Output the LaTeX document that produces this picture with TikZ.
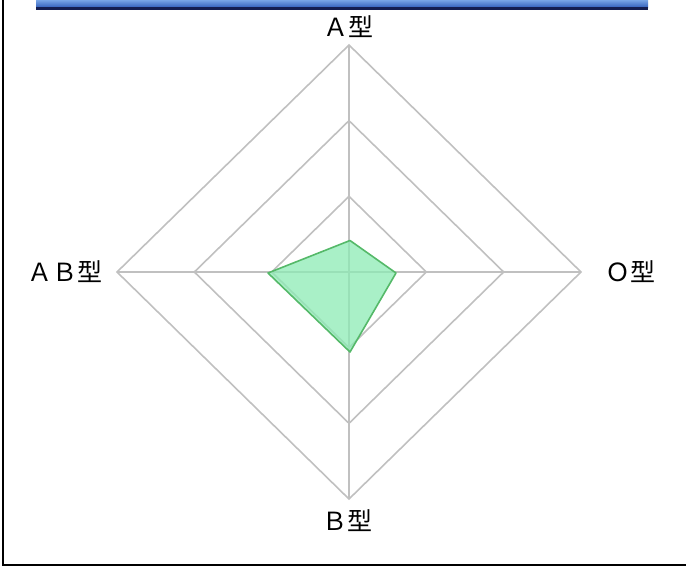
\documentclass[tikz,border=0pt]{standalone}
\usepackage{fontspec}
\usetikzlibrary{calc}
\newfontfamily\jp{Noto Sans CJK JP}
\definecolor{gridgray}{RGB}{192,192,192}
\definecolor{datafill}{RGB}{140,235,180}
\definecolor{dataline}{RGB}{85,185,105}
\definecolor{bartop}{RGB}{120,165,230}
\definecolor{barbot}{RGB}{55,100,190}
\definecolor{barline}{RGB}{20,30,80}
\tikzset{
  gridline/.style={draw=gridgray, line width=1.6pt},
  axislabel/.style={font=\jp\fontsize{25}{29}\selectfont, inner sep=0pt},
  datapoly/.style={fill=datafill, fill opacity=0.75, draw=dataline, line width=1.6pt, line join=round},
  frameline/.style={draw=black, line width=2pt}
}
\begin{document}
\begin{tikzpicture}[x=1pt,y=-1pt]
\useasboundingbox (0,0) rectangle (686,566);
% frame
\draw[frameline] (3,0) -- (3,564.5) -- (686,564.5);
% top bar
\shade[top color=bartop, bottom color=barbot] (36,0) rectangle (648,7);
\fill[barline] (36,7) rectangle (648,9.5);
% radar geometry
\coordinate (c) at (349,272);
\foreach \k in {1,2,3}{
  \draw[gridline] ($(c)+(0,-75.67*\k)$) -- ($(c)+(77.33*\k,0)$) -- ($(c)+(0,75.67*\k)$) -- ($(c)+(-77.33*\k,0)$) -- cycle;
}
\coordinate (top) at (349,45);
\coordinate (right) at (581,272);
\coordinate (bottom) at (349,499);
\coordinate (left) at (117,272);
\draw[gridline] (top) -- (bottom);
\draw[gridline] (left) -- (right);
% data
\coordinate (pA) at (350,240.5);
\coordinate (pO) at (396,273);
\coordinate (pB) at (350,352);
\coordinate (pAB) at (268,273);
\draw[datapoly] (pA) -- (pO) -- (pB) -- (pAB) -- cycle;
% labels
\node[axislabel] (lA) at (348,27) {Ａ型};
\node[axislabel] (lB) at (347,521) {Ｂ型};
\node[axislabel] (lO) at (630,272) {Ｏ型};
\node[axislabel] (lAB) at (65,272) {ＡＢ型};
\end{tikzpicture}
\end{document}
